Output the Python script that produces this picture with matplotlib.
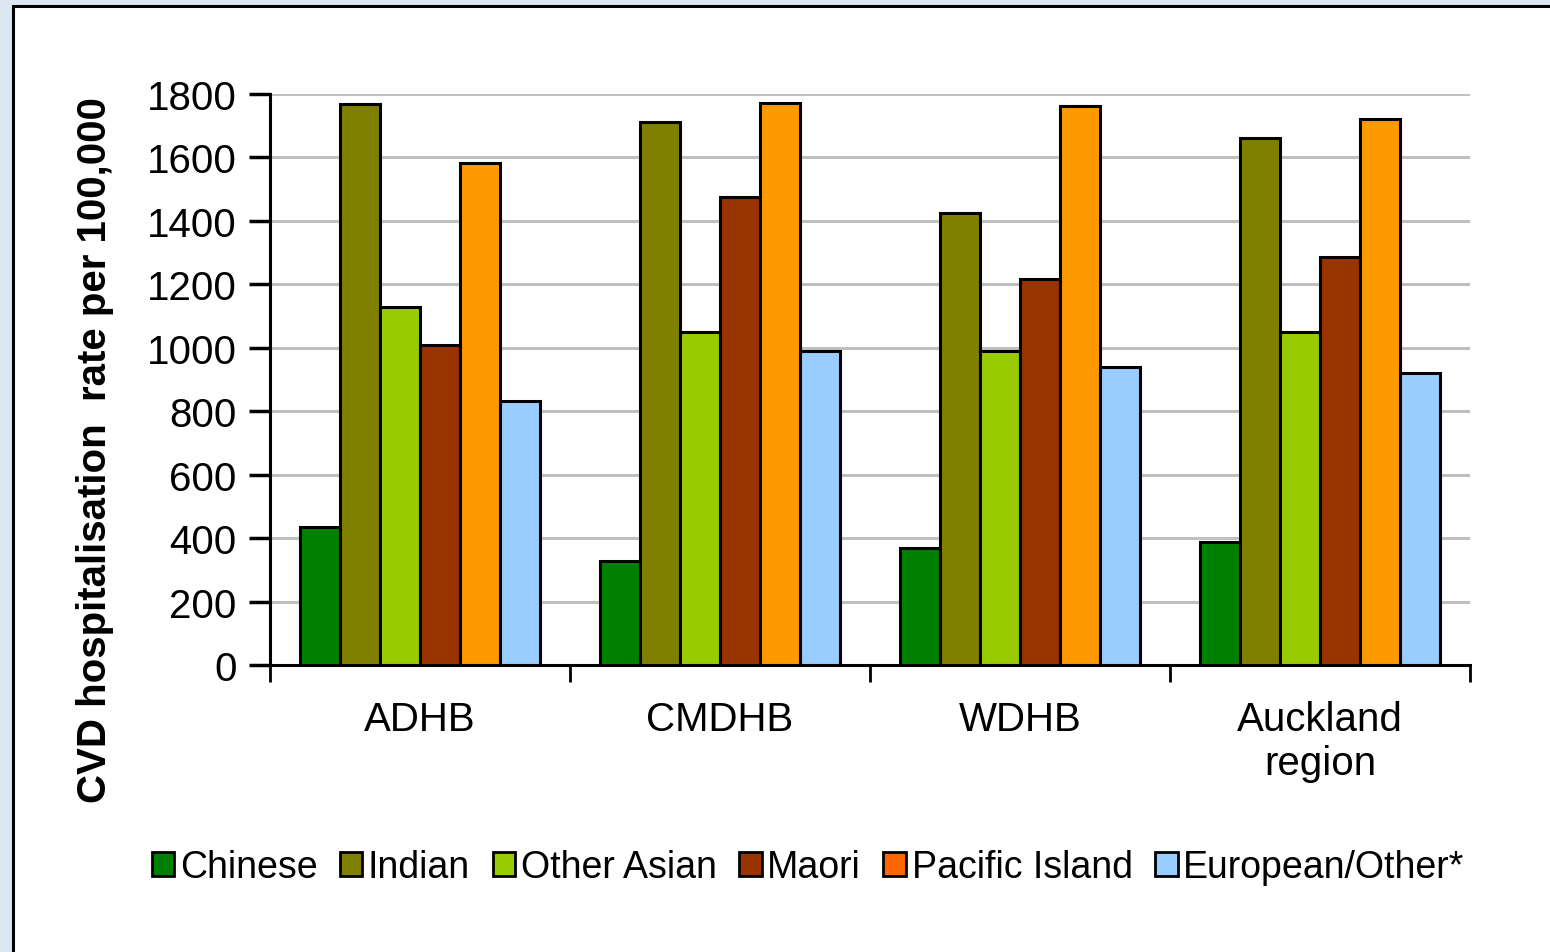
import matplotlib.pyplot as plt
from matplotlib.patches import Rectangle, Patch
import numpy as np

plt.rcParams['font.family'] = ['Liberation Sans', 'DejaVu Sans']

regions = ['ADHB', 'CMDHB', 'WDHB', 'Auckland\nregion']
groups = ['Chinese', 'Indian', 'Other Asian', 'Maori', 'Pacific Island', 'European/Other*']
colors = ['#008000', '#808000', '#99CC00', '#993300', '#FF9900', '#99CCFF']
legend_colors = ['#008000', '#808000', '#99CC00', '#993300', '#FF6600', '#99CCFF']

chinese = [435, 328, 369, 388]
indian = [1770, 1712, 1425, 1661]
other_asian = [1128, 1050, 990, 1050]
maori = [1008, 1475, 1217, 1286]
pacific = [1582, 1772, 1762, 1721]
european = [832, 990, 939, 920]
series = [chinese, indian, other_asian, maori, pacific, european]

fig = plt.figure(figsize=(15.5, 9.53), dpi=100)
fig.patch.set_facecolor('#DCE6F2')
# white panel with a dark border
fig.patches.append(Rectangle((12.5 / 1550, -0.05), 1.1, 1 - 6.5 / 953 + 0.05,
                             transform=fig.transFigure, facecolor='white',
                             edgecolor='black', linewidth=2.2, zorder=-1))

ax = fig.add_axes([270 / 1550, 1 - 666 / 953, 1200 / 1550, 571 / 953])
ax.set_zorder(2)
ax.set_facecolor('none')

x = np.arange(len(regions))
w = 0.8 / len(groups)
for i, (vals, c) in enumerate(zip(series, colors)):
    ax.bar(x - 0.4 + w * (i + 0.5), vals, width=w, color=c,
           edgecolor='black', linewidth=2.2, zorder=3)

ax.set_xlim(-0.5, len(regions) - 0.5)
ax.set_ylim(0, 1800)
ax.set_yticks(range(0, 1801, 200))
ax.yaxis.grid(True, color='#C0C0C0', linewidth=2.2, zorder=0)
ax.set_axisbelow(True)

ax.set_xticks(np.arange(-0.5, len(regions), 1))
ax.set_xticklabels([])
ax.set_xticks(x, minor=True)
ax.set_xticklabels(regions, minor=True, fontsize=29, linespacing=1.2)
ax.tick_params(axis='x', which='major', length=12, width=2, direction='out')
ax.tick_params(axis='x', which='minor', length=0, pad=25)
ax.tick_params(axis='y', length=15, width=2.5, labelsize=29, pad=9)

for s in ['top', 'right']:
    ax.spines[s].set_visible(False)
for s in ['left', 'bottom']:
    ax.spines[s].set_linewidth(2.2)

fig.text(95 / 1550, 1 - 450 / 953, 'CVD hospitalisation  rate per 100,000',
         rotation=90, ha='center', va='center', fontsize=29, fontweight='bold')

handles = [Patch(facecolor=c, edgecolor='black', linewidth=2) for c in legend_colors]
fig.legend(handles, groups, loc='center', bbox_to_anchor=(808 / 1550, 1 - 868 / 953),
           ncol=6, frameon=False, fontsize=27, handlelength=0.6, handleheight=0.6,
           handletextpad=0.15, columnspacing=0.6, borderaxespad=0)

fig.savefig('out.png', dpi=100, facecolor=fig.get_facecolor())
